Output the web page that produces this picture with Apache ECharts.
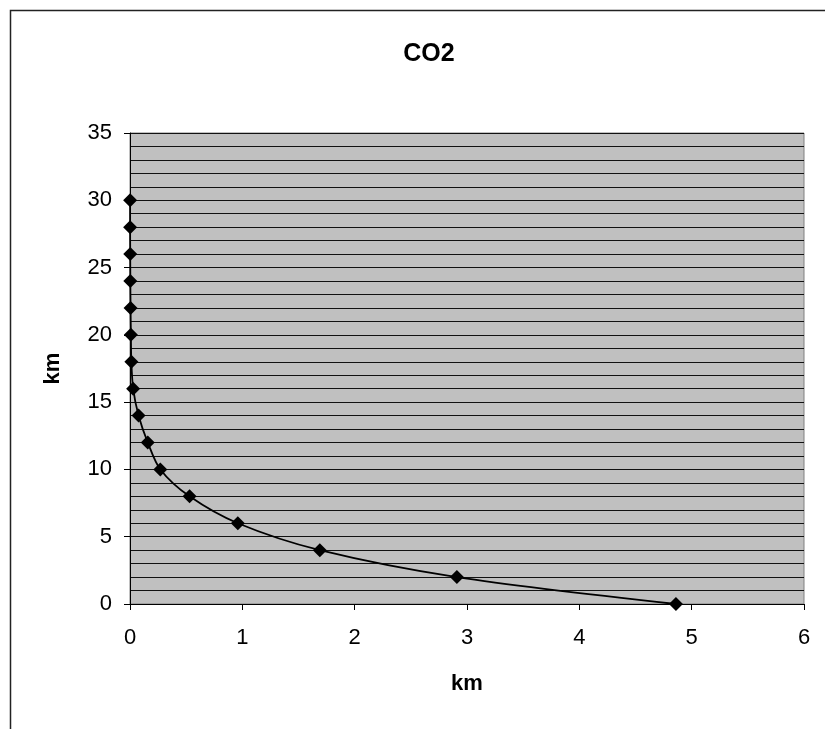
<!DOCTYPE html>
<html><head><meta charset="utf-8">
<script src="https://cdn.jsdelivr.net/npm/echarts@6/dist/echarts.min.js"></script>
<style>html,body{margin:0;padding:0;background:#fff}#c{width:825px;height:729px}</style>
</head><body><div id="c"></div>
<script>
const altitudes = [0, 2, 4, 6, 8, 10, 12, 14, 16, 18, 20, 22, 24, 26, 28, 30];
const values = [4.86, 2.91, 1.69, 0.96, 0.53, 0.27, 0.158, 0.076, 0.028, 0.012, 0.008, 0.005, 0.003, 0.002, 0.001, 0.001];
const titleText = 'CO2';
const xName = 'km';
const yName = 'km';

const chart = echarts.init(document.getElementById('c'));
const font = '"Liberation Sans", Arial, sans-serif';
chart.setOption({
  animation: false,
  backgroundColor: '#fff',
  title: { text: titleText, left: 424, top: 37, textAlign: 'center',
    textStyle: { fontFamily: font, fontSize: 25, fontWeight: 'bold', color: '#000' } },
  graphic: [{ type: 'rect', shape: { x: 10.5, y: 10.5, width: 840, height: 740 },
    style: { fill: null, stroke: '#222', lineWidth: 1.5 }, silent: true }],
  grid: { left: 130, right: 21, top: 133, bottom: 125, show: true,
    backgroundColor: '#C0C0C0', borderColor: '#808080', borderWidth: 1 },
  xAxis: { type: 'value', min: 0, max: 6, interval: 1,
    name: xName, nameLocation: 'middle', nameGap: 69,
    nameTextStyle: { fontFamily: font, fontSize: 22, fontWeight: 'bold', color: '#000' },
    axisLine: { show: true, lineStyle: { color: '#000', width: 1 } },
    axisTick: { show: true, length: 6, lineStyle: { color: '#000' } },
    axisLabel: { fontFamily: font, fontSize: 22, color: '#000', margin: 23 },
    splitLine: { show: false } },
  yAxis: { type: 'value', min: 0, max: 35, interval: 5,
    name: yName, nameLocation: 'middle', nameGap: 66,
    nameTextStyle: { fontFamily: font, fontSize: 22, fontWeight: 'bold', color: '#000' },
    axisLine: { show: true, onZero: false, lineStyle: { color: '#000', width: 1 } },
    axisTick: { show: true, length: 6, lineStyle: { color: '#000' } },
    axisLabel: { fontFamily: font, fontSize: 22, color: '#000', margin: 18 },
    splitLine: { show: true, lineStyle: { color: '#111', width: 1 } },
    minorTick: { show: false, splitNumber: 5 },
    minorSplitLine: { show: true, lineStyle: { color: '#111', width: 1 } } },
  series: [{ type: 'line', data: values.map((v, i) => [v, altitudes[i]]),
    smooth: 0.3, symbol: 'diamond', symbolSize: 14, clip: false,
    lineStyle: { color: '#000', width: 1.8 },
    itemStyle: { color: '#000' } }]
});
</script></body></html>
